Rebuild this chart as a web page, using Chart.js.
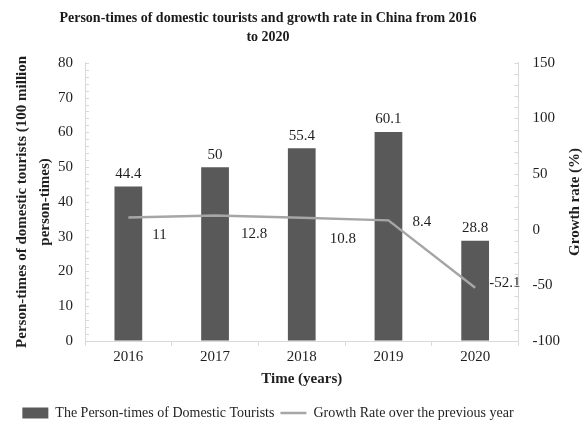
<!DOCTYPE html>
<html>
<head>
<meta charset="utf-8">
<script src="https://cdn.jsdelivr.net/npm/chart.js@4/dist/chart.umd.min.js"></script>
<style>
  html, body { margin: 0; padding: 0; background: #fff; }
  #chart { display: block; }
</style>
</head>
<body>
<canvas id="chart" width="584" height="428"></canvas>
<script>
const years = ['2016', '2017', '2018', '2019', '2020'];
const touristTrips = [44.4, 50, 55.4, 60.1, 28.8];
const growthRate = [11, 12.8, 10.8, 8.4, -52.1];

const leftTicks = { min: 0, max: 80, step: 10, minor: 2 };
const rightTicks = { min: -100, max: 150, step: 50, minor: 10 };

const SERIF = '"Liberation Serif", "Times New Roman", serif';
Chart.defaults.font.family = SERIF;
Chart.defaults.font.size = 15;
Chart.defaults.color = '#1f1f1f';

// little inside tick marks along both value axes
const minorTicks = {
  id: 'minorTicks',
  afterDraw(chart) {
    const { ctx } = chart;
    ctx.save();
    ctx.strokeStyle = '#d9d9d9';
    ctx.lineWidth = 1;
    [['y', leftTicks, 1], ['y1', rightTicks, -1]].forEach(([id, t, dir]) => {
      const scale = chart.scales[id];
      const x = dir > 0 ? scale.right : scale.left;
      for (let v = t.min; v <= t.max; v += t.minor) {
        const y = Math.round(scale.getPixelForValue(v)) + 0.5;
        ctx.beginPath();
        ctx.moveTo(x, y);
        ctx.lineTo(x + dir * 4, y);
        ctx.stroke();
      }
    });
    ctx.restore();
  },
};

// right axis title, rotated to read bottom-up like the left one
const rightTitle = {
  id: 'rightTitle',
  afterDraw(chart, args, opts) {
    const { ctx, chartArea } = chart;
    ctx.save();
    ctx.translate(chart.width - opts.inset, (chartArea.top + chartArea.bottom) / 2);
    ctx.rotate(-Math.PI / 2);
    ctx.font = 'bold 15px ' + SERIF;
    ctx.fillStyle = '#1f1f1f';
    ctx.textAlign = 'center';
    ctx.textBaseline = 'middle';
    ctx.fillText(opts.text, 0, 0);
    ctx.restore();
  },
};

// value labels: above bars, beside the line points
const valueLabels = {
  id: 'valueLabels',
  afterDatasetsDraw(chart, args, opts) {
    const { ctx } = chart;
    ctx.save();
    ctx.font = '15px ' + SERIF;
    ctx.fillStyle = '#1f1f1f';
    chart.data.datasets.forEach((ds, i) => {
      const meta = chart.getDatasetMeta(i);
      meta.data.forEach((el, j) => {
        const v = ds.data[j];
        if (meta.type === 'bar') {
          ctx.textAlign = 'center';
          ctx.textBaseline = 'bottom';
          ctx.fillText(v, el.x, el.y - 5);
        } else {
          ctx.textAlign = 'left';
          ctx.textBaseline = 'middle';
          ctx.fillText(v, el.x + opts.lineDx[j], el.y + opts.lineDy[j]);
        }
      });
    });
    ctx.restore();
  },
};

new Chart(document.getElementById('chart'), {
  data: {
    labels: years,
    datasets: [
      {
        type: 'line',
        label: 'Growth Rate over the previous year',
        data: growthRate,
        yAxisID: 'y1',
        borderColor: '#a6a6a6',
        backgroundColor: '#a6a6a6',
        borderWidth: 2.5,
        pointRadius: 0,
        tension: 0,
        pointStyle: 'line',
        order: 1,
      },
      {
        type: 'bar',
        label: 'The Person-times of Domestic Tourists',
        data: touristTrips,
        yAxisID: 'y',
        backgroundColor: '#595959',
        borderWidth: 0,
        barPercentage: 0.32,
        categoryPercentage: 1,
        pointStyle: 'rect',
        order: 2,
      },
    ],
  },
  options: {
    responsive: false,
    animation: false,
    // left edge pulled out so title and legend sit a little left of centre
    layout: { padding: { left: -38, right: 10, top: 0, bottom: -2 } },
    plugins: {
      title: {
        display: true,
        text: ['Person-times of domestic tourists and growth rate in China from 2016', 'to 2020'],
        font: { size: 14, weight: 'bold', lineHeight: 1.35 },
        color: '#1a1a1a',
        padding: { top: 9, bottom: 16 },
      },
      legend: {
        position: 'bottom',
        reverse: true,
        labels: {
          usePointStyle: true,
          pointStyleWidth: 26,
          boxHeight: 11,
          padding: 6,
          color: '#1f1f1f',
          font: { size: 14 },
        },
      },
      tooltip: { enabled: false },
      rightTitle: { text: 'Growth rate (%)', inset: 9 },
      valueLabels: {
        lineDx: [24, 26, 28, 24, 14],
        lineDy: [18, 19, 21, 2, -5],
      },
    },
    scales: {
      x: {
        grid: { offset: true, drawOnChartArea: false, color: '#d9d9d9', tickLength: 5 },
        border: { color: '#d9d9d9' },
        ticks: { padding: 2 },
        title: {
          display: true,
          text: 'Time (years)',
          font: { size: 15, weight: 'bold' },
          padding: { top: 2, bottom: 12 },
        },
      },
      y: {
        position: 'left',
        min: leftTicks.min,
        max: leftTicks.max,
        ticks: { stepSize: leftTicks.step, padding: 12 },
        grid: { drawOnChartArea: false, drawTicks: false },
        border: { color: '#d9d9d9' },
        title: {
          display: true,
          text: ['Person-times of domestic tourists (100 million', 'person-times)'],
          font: { size: 15, weight: 'bold', lineHeight: 1.5 },
          padding: { top: 49, bottom: -10 },
        },
      },
      y1: {
        position: 'right',
        min: rightTicks.min,
        max: rightTicks.max,
        ticks: { stepSize: rightTicks.step, padding: 14 },
        grid: { drawOnChartArea: false, drawTicks: false },
        border: { color: '#d9d9d9' },
      },
    },
  },
  plugins: [minorTicks, rightTitle, valueLabels],
});
</script>
</body>
</html>
